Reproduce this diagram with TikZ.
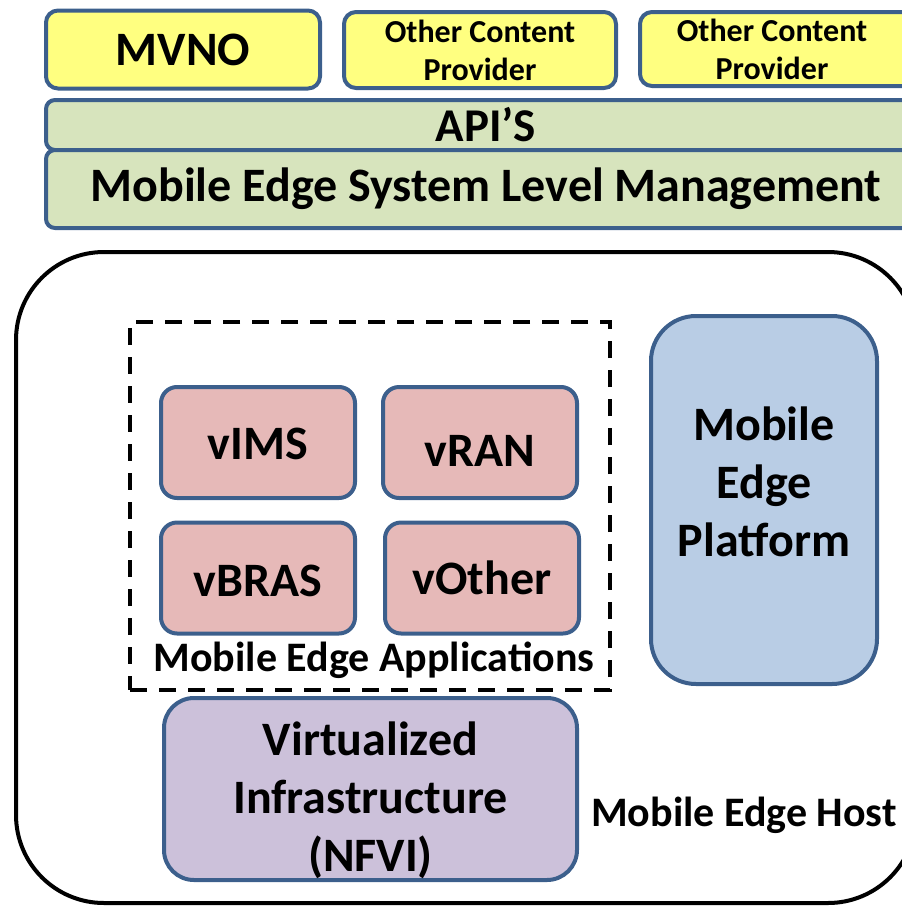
\documentclass[tikz,border=0pt]{standalone}
\usepackage{fontspec}
\setmainfont{Carlito}
\definecolor{bord}{HTML}{3C5F8C}
\definecolor{yel}{HTML}{FFFF80}
\definecolor{grn}{HTML}{D7E4BD}
\definecolor{pnk}{HTML}{E6B9B8}
\definecolor{blu}{HTML}{B9CDE5}
\definecolor{pur}{HTML}{CCC1DA}
\begin{document}
\begin{tikzpicture}[x=1pt,y=-1pt,
  box/.style={draw=bord, line width=4pt, rounded corners=12pt, align=center, inner sep=0pt, font=\bfseries},
  ybox/.style={box, fill=yel},
  gbox/.style={box, fill=grn, rounded corners=9pt},
  pbox/.style={box, fill=pnk, rounded corners=16pt, minimum width=194pt, minimum height=111pt},
  big/.style={font=\bfseries\fontsize{48}{58}\selectfont},
  ocp/.style={font=\bfseries\fontsize{32}{38}\selectfont},
  lbl/.style={inner sep=0pt, font=\bfseries, align=center}]
\useasboundingbox (0,0) rectangle (902,906);
\clip (0,0) rectangle (902,906);
% top row
\node[ybox, minimum width=274pt, minimum height=78pt, font=\bfseries\fontsize{48}{52}\selectfont] (mvno) at (183,49.5) {MVNO};
\node[ybox, minimum width=272pt, minimum height=76pt, ocp] (ocp1) at (480,50) {Other Content\\Provider};
\node[ybox, minimum width=290pt, minimum height=74pt, label={[lbl, ocp, xshift=-13pt]center:{Other Content\\Provider}}] (ocp2) at (785,49) {};
\node[gbox, minimum width=880pt, minimum height=50pt, font=\bfseries\fontsize{47}{50}\selectfont] (api) at (486,125) {API’S};
\node[gbox, minimum width=880pt, minimum height=78pt, font=\bfseries\fontsize{48}{52}\selectfont] (mgmt) at (486,189) {Mobile Edge System Level Management};
% host
\node[draw=black, line width=4pt, rounded corners=88pt, minimum width=900pt, minimum height=651pt, inner sep=0pt] (host) at (466,577.5) {};
\node[draw=black, line width=4pt, dash pattern=on 17pt off 12pt, minimum width=480pt, minimum height=368pt, inner sep=0pt] (apps) at (370,506) {};
\node[pbox, label={[lbl, big, yshift=-1pt]center:vIMS}] (vims) at (258,442.5) {};
\node[pbox, label={[lbl, big, yshift=-8pt]center:vRAN}] (vran) at (480,442.5) {};
\node[pbox, label={[lbl, big, yshift=-3pt]center:vBRAS}] (vbras) at (258,578) {};
\node[pbox, label={[lbl, big, yshift=0pt]center:vOther}] (voth) at (482,578) {};
\node[lbl, font=\bfseries\fontsize{42}{44}\selectfont] (appslbl) at (374,660) {Mobile Edge Applications};
\node[box, fill=blu, rounded corners=45pt, minimum width=226pt, minimum height=368pt, label={[lbl, big, yshift=18pt]center:{Mobile\\Edge\\Platform}}] (mep) at (764,500) {};
\node[box, fill=pur, rounded corners=30pt, minimum width=413pt, minimum height=182pt, label={[lbl, big, yshift=-11pt]center:{Virtualized\\Infrastructure\\(NFVI)}}] (nfvi) at (370.5,789) {};
\node[lbl, font=\bfseries\fontsize{42}{44}\selectfont] (hostlbl) at (744,815) {Mobile Edge Host};
\end{tikzpicture}
\end{document}
